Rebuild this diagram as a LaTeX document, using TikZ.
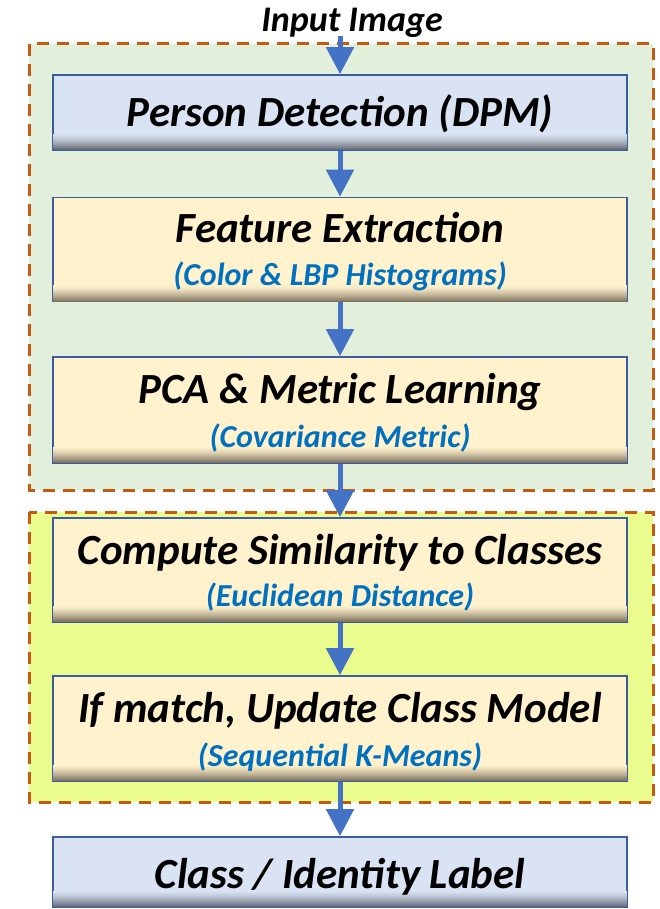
\documentclass[tikz,border=0pt]{standalone}
\usepackage{fontspec}
\setmainfont{Carlito}
\usetikzlibrary{arrows.meta,calc}

\definecolor{framec}{HTML}{C55A11}
\definecolor{greenfill}{HTML}{E2EFDA}
\definecolor{yellowfill}{HTML}{EAFC8E}
\definecolor{bluefill}{HTML}{DAE3F3}
\definecolor{bluedark}{HTML}{666C78}
\definecolor{tanfill}{HTML}{FFF2CC}
\definecolor{tandark}{HTML}{807462}
\definecolor{borderc}{HTML}{3A5CA0}
\definecolor{arrowc}{HTML}{4472C4}
\definecolor{subc}{HTML}{0070C0}

\begin{document}
\begin{tikzpicture}[x=1pt,y=-1pt,
  frame/.style={draw=framec, line width=3pt, dash pattern=on 12pt off 8pt},
  bluebox/.style={draw=borderc, line width=1.6pt, fill=bluefill,
    minimum width=574pt, inner sep=0pt},
  tanbox/.style={draw=borderc, line width=1.6pt, fill=tanfill,
    minimum width=574pt, inner sep=0pt},
  titletext/.style={font=\fontsize{43}{50}\selectfont\bfseries\itshape,
    anchor=base, inner sep=0pt},
  subtext/.style={font=\fontsize{32}{38}\selectfont\bfseries\itshape,
    text=subc, anchor=base, inner sep=0pt},
  intext/.style={font=\fontsize{36}{42}\selectfont\bfseries\itshape,
    anchor=base, inner sep=0pt},
  flow/.style={draw=arrowc, line width=5pt,
    -{Triangle[width=27pt,length=27pt]}}
]
\useasboundingbox (0,0) rectangle (659,909);

% stage groups
\draw[frame, fill=greenfill] (29,44) rectangle (653,490);
\draw[frame, fill=yellowfill] (29,512) rectangle (653,802);

% processing steps
\node[bluebox, minimum height=75pt]  (pd)  at (340,112.5) {};
\node[tanbox,  minimum height=104pt] (fe)  at (340,249.5) {};
\node[tanbox,  minimum height=106pt] (pca) at (340,410)   {};
\node[tanbox,  minimum height=104pt] (cs)  at (340,570)   {};
\node[tanbox,  minimum height=105pt] (im)  at (340,728.5) {};
\node[bluebox, minimum height=70pt]  (cl)  at (340,872)   {};

% darkening band along the lower edge of each step, in thin strips
\foreach \n/\lc/\dc in {pd/bluefill/bluedark, fe/tanfill/tandark,
    pca/tanfill/tandark, cs/tanfill/tandark, im/tanfill/tandark,
    cl/bluefill/bluedark}{
  \foreach \i in {0,...,15}{
    \pgfmathsetmacro\p{100*((16-\i)/16)^1.4}
    \fill[\dc!\p!\lc] ($(\n.south west)+(0.8,-\i-0.8)$)
      rectangle ($(\n.south east)+(-0.8,-\i-2)$);
  }
}

% flow
\coordinate (instart) at (340,36);
\draw[flow] (instart) -- (pd.north);
\draw[flow] (pd.south) -- (fe.north);
\draw[flow] (fe.south) -- (pca.north);
\draw[flow] (pca.south) -- (cs.north);
\draw[flow] (cs.south) -- (im.north);
\draw[flow] (im.south) -- (cl.north);

% labels
\node[intext] (inlbl) at (352,32) {Input Image};
\node[titletext] (pdt) at (340,127) {Person Detection (DPM)};
\node[titletext] (fet) at (340,243) {Feature Extraction};
\node[subtext]   (fes) at (340,285) {(Color \& LBP Histograms)};
\node[titletext] (pcat) at (340,403) {PCA \& Metric Learning};
\node[subtext]   (pcas) at (340,447) {(Covariance Metric)};
\node[titletext] (cst) at (340,564) {Compute Similarity to Classes};
\node[subtext]   (css) at (340,606) {(Euclidean Distance)};
\node[titletext] (imt) at (340,722) {If match, Update Class Model};
\node[subtext]   (ims) at (340,766) {(Sequential K-Means)};
\node[titletext] (clt) at (340,888) {Class / Identity Label};
\end{tikzpicture}
\end{document}
